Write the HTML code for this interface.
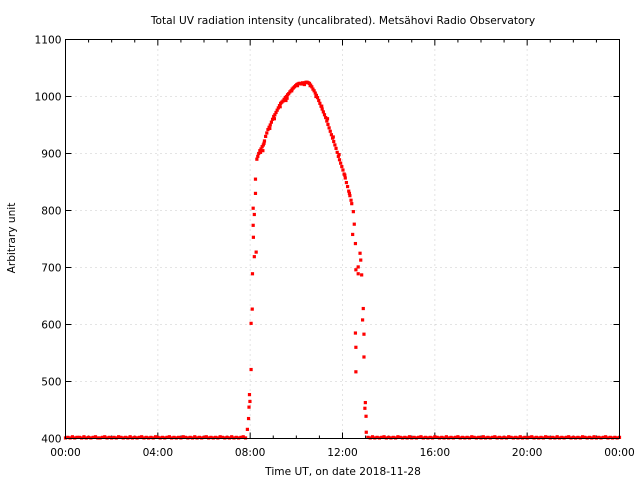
<!DOCTYPE html>
<html><head><meta charset="utf-8"><style>
html,body{margin:0;padding:0;background:#fff;}
svg{display:block;font-family:"DejaVu Sans","Liberation Sans",sans-serif;}
</style></head><body>
<svg id="chart" width="640" height="480" viewBox="0 0 640 480" xmlns="http://www.w3.org/2000/svg">
<rect width="640" height="480" fill="#fff"/>
<text x="343" y="24" font-size="10.6" text-anchor="middle">Total UV radiation intensity (uncalibrated). Metsähovi Radio Observatory</text>
<text transform="translate(15,238) rotate(-90)" font-size="10.6" text-anchor="middle">Arbitrary unit</text>
<text x="343" y="475" font-size="10.6" text-anchor="middle">Time UT, on date 2018-11-28</text>
<g id="grid"></g><g id="axes"></g><g id="marks"></g>
<rect x="65.5" y="39.5" width="554" height="399" fill="none" stroke="#000" stroke-width="1"/>
</svg>
<script>
const xTickLabels=["00:00","04:00","08:00","12:00","16:00","20:00","00:00"];
const yTicks=[400,500,600,700,800,900,1000,1100];
const arcHours=[7.88,7.93,7.97,8.04,8.04,8.09,8.1,8.14,8.13,8.18,8.13,8.18,8.26,8.23,8.23,8.29,8.33,8.37,8.42,8.47,8.52,8.57,8.62,8.67,8.72,8.77,8.82,8.87,8.92,8.97,9.02,9.07,9.12,9.17,9.22,9.27,9.32,9.37,9.42,9.47,9.52,9.57,9.62,9.67,9.72,9.77,9.82,9.87,9.92,9.97,10.02,10.07,10.12,10.17,10.22,10.27,10.32,10.37,10.42,10.47,10.52,10.57,10.62,10.67,10.72,10.77,10.82,10.87,10.92,10.97,11.02,11.07,11.12,11.17,11.22,11.27,11.32,11.37,11.42,11.47,11.52,11.57,11.62,11.67,11.72,11.77,11.82,11.87,11.92,11.97,12.02,12.07,12.12,12.17,12.22,12.27,12.32,12.37,12.4,12.47,12.51,12.44,12.56,12.76,12.79,12.68,12.58,12.68,12.83,12.9,12.87,12.93,12.56,12.58,12.93,12.58,12.99,12.97,13.02,13.03,7.95,7.99,9.6,8.55,8.45,8.6,8.85,9.05,9.3,9.55,9.8,10.05,10.35,10.6,10.85,11.1,11.35,11.6,11.85,12.1,12.3];
const arcValues=[416,435,477,521,602,627,689,753,774,719,804,793,727,830,855,890,895,900,905,908,912,915,922,930,936,942,946,950,955,960,965,968,972,976,980,984,988,990,992,995,998,1000,1003,1005,1008,1010,1013,1015,1017,1019,1021,1022,1023,1023,1022,1024,1023,1024,1025,1025,1024,1023,1020,1017,1013,1010,1006,1002,998,993,988,983,978,973,968,963,957,951,945,939,933,927,921,915,909,902,895,889,883,877,871,864,857,849,842,834,826,818,812,798,776,758,742,725,713,701,696,689,687,628,608,583,585,560,543,517,463,453,439,411,455,465,997,905,902,918,944,961,982,993,1010,1019,1021,1019,1000,983,961,929,898,862,830];
const morningStart=0.0, eveningStart=13.1, baseStep=0.1;
const baseMorning=[401,402,401,403,401,402,402,401,403,401,402,401,402,403,401,401,402,403,401,402,401,402,401,403,402,401,402,401,403,401,402,401,402,403,401,402,401,402,401,403,402,401,402,401,402,403,401,402,401,402,401,403,402,401,402,401,403,401,402,401,402,403,401,402,401,402,401,403,402,401,402,401,403,401,402,401,402,403,401];
const baseEvening=[402,401,403,401,402,401,402,403,401,402,401,402,401,403,402,401,402,401,403,401,402,401,402,403,401,402,401,402,401,403,402,401,402,401,403,401,402,401,402,403,401,402,401,402,401,403,402,401,402,401,403,401,402,401,402,403,401,402,401,402,401,403,402,401,402,401,403,401,402,401,402,403,401,402,401,402,401,403,402,401,402,401,403,401,402,401,402,403,401,402,401,402,401,403,402,401,402,401,403,401,402,401,402,403,401,402,401,402,401,402];

const L=65.5,R=619.5,T=39.5,B=438.5;
function xs(h){return L+(R-L)*h/24;}
function ys(v){return B-(B-T)*(v-400)/700;}
const NS="http://www.w3.org/2000/svg";
function mk(tag,attrs,parent){const e=document.createElementNS(NS,tag);for(const k in attrs)e.setAttribute(k,attrs[k]);parent.appendChild(e);return e;}
const grid=document.getElementById('grid'),axes=document.getElementById('axes'),marks=document.getElementById('marks');

yTicks.forEach(v=>{
  const y=ys(v);
  if(v>400&&v<1100){const g=mk('line',{x1:L,x2:R,y1:y,y2:y,stroke:'#c8c8c8','stroke-width':1,'stroke-dasharray':'1,4'},grid);
  
  }
  mk('line',{x1:L,x2:L+6,y1:y,y2:y,stroke:'#000'},axes);
  mk('line',{x1:R-6,x2:R,y1:y,y2:y,stroke:'#000'},axes);
  const t=mk('text',{x:L-4,y:y+4,'font-size':10.6,'text-anchor':'end'},axes);
  t.textContent=v;
  
  
});
for(let h=0;h<=24;h++){
  const x=xs(h),major=h%4===0,len=major?6:3;
  mk('line',{x1:x,x2:x,y1:B,y2:B-len,stroke:'#000'},axes);
  mk('line',{x1:x,x2:x,y1:T,y2:T+len,stroke:'#000'},axes);
  if(major){
    if(h>0&&h<24){const g=mk('line',{x1:x,x2:x,y1:T,y2:B,stroke:'#c8c8c8','stroke-width':1,'stroke-dasharray':'1,4'},grid);
    
    }
    const t=mk('text',{x:x,y:456,'font-size':10.6,'text-anchor':'middle'},axes);
    t.textContent=xTickLabels[h/4];
    
    
  }
}
function pt(h,v){
  const c=mk('rect',{x:xs(h)-1.6,y:ys(v)-1.6,width:3.2,height:3.2,fill:'#f00'},marks);
  
  
}
baseMorning.forEach((v,i)=>pt(morningStart+i*baseStep,v));
baseEvening.forEach((v,i)=>pt(eveningStart+i*baseStep,v));
arcHours.forEach((h,i)=>pt(h,arcValues[i]));
</script>
</body></html>
